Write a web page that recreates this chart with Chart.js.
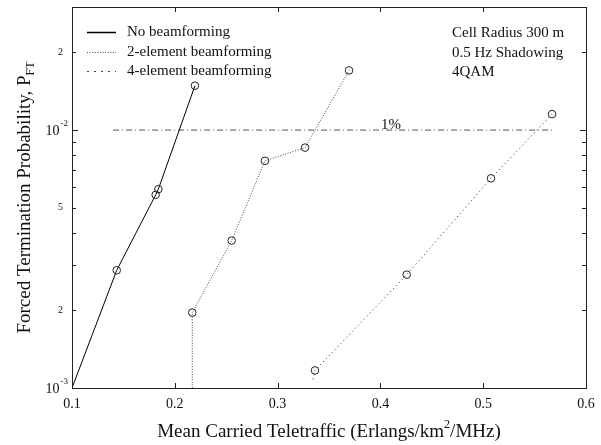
<!DOCTYPE html>
<html>
<head>
<meta charset="utf-8">
<script src="https://cdn.jsdelivr.net/npm/chart.js@4/dist/chart.umd.min.js"></script>
<style>
html,body{margin:0;padding:0;background:#fff;}
canvas{display:block;}
</style>
</head>
<body>
<canvas id="c" width="601" height="445"></canvas>
<script>
// ---- data ----
const xTicks = [0.1, 0.2, 0.3, 0.4, 0.5, 0.6];
const yTickLabels = [
  {v: 0.001, base: '10', exp: '-3'},
  {v: 0.002, base: '2'},
  {v: 0.005, base: '5'},
  {v: 0.01, base: '10', exp: '-2'},
  {v: 0.02, base: '2'}
];
const seriesNames = ['No beamforming', '2-element beamforming', '4-element beamforming'];

const noBfX = [0.1, 0.1435, 0.1814, 0.184, 0.2196];
const noBfY = [0.001, 0.00286, 0.00561, 0.0059, 0.01486];
const noBfMarks = [false, true, true, true, true];

const twoElX = [0.217, 0.217, 0.2553, 0.2877, 0.3267, 0.3695];
const twoElY = [0.001, 0.00196, 0.00373, 0.0076, 0.00855, 0.01703];
const twoElMarks = [false, true, true, true, true, true];

const fourElX = [0.3345, 0.3364, 0.4256, 0.5076, 0.567];
const fourElY = [0.00108, 0.00117, 0.00275, 0.0065, 0.01153];
const fourElMarks = [false, true, true, true, true];

const onePctX = [0.14, 0.57];
const onePctY = [0.01, 0.01];

const notes = ['Cell Radius 300 m', '0.5 Hz Shadowing', '4QAM'];

// ---- build ----
const pts = (xs, ys) => xs.map((x, i) => ({x: x, y: ys[i]}));
const rad = (m) => m.map(b => b ? 3.8 : 0);
const SERIF = '"Liberation Serif", "DejaVu Serif", serif';

const styles = [
  {color: '#000', dash: [], width: 1},
  {color: '#444', dash: [1, 1.6], width: 1},
  {color: '#444', dash: [1.2, 3], width: 1}
];

const datasets = [
  {data: pts(noBfX, noBfY), radius: rad(noBfMarks), s: styles[0]},
  {data: pts(twoElX, twoElY), radius: rad(twoElMarks), s: styles[1]},
  {data: pts(fourElX, fourElY), radius: rad(fourElMarks), s: styles[2]}
].map((d, i) => ({
  label: seriesNames[i],
  data: d.data,
  showLine: true,
  borderColor: d.s.color,
  borderWidth: d.s.width,
  borderDash: d.s.dash,
  pointRadius: d.radius,
  pointBorderColor: '#222',
  pointBackgroundColor: 'rgba(0,0,0,0)',
  pointBorderWidth: 1,
  tension: 0
}));
datasets.push({
  label: '1%',
  data: pts(onePctX, onePctY),
  showLine: true,
  borderColor: '#555',
  borderWidth: 1,
  borderDash: [6, 3, 1, 3],
  pointRadius: 0
});

const decor = {
  id: 'decor',
  afterDraw(chart) {
    const ctx = chart.ctx;
    const a = chart.chartArea;
    const xs = chart.scales.x, ys = chart.scales.y;
    ctx.save();
    ctx.strokeStyle = '#222';
    ctx.lineWidth = 1;
    ctx.strokeRect(Math.round(a.left) + 0.5, Math.round(a.top) + 0.5, Math.round(a.right - a.left), Math.round(a.bottom - a.top));
    ctx.beginPath();
    xTicks.forEach(v => {
      const px = Math.round(xs.getPixelForValue(v)) + 0.5;
      ctx.moveTo(px, a.bottom); ctx.lineTo(px, a.bottom - 5);
      ctx.moveTo(px, a.top); ctx.lineTo(px, a.top + 5);
    });
    for (let e = -3; e <= -2; e++) {
      for (let m = 1; m <= 9; m++) {
        const v = m * Math.pow(10, e);
        if (v < ys.min * 0.999 || v > ys.max * 1.001) continue;
        const py = Math.round(ys.getPixelForValue(v)) + 0.5;
        const len = m === 1 ? 6 : 4;
        ctx.moveTo(a.left, py); ctx.lineTo(a.left + len, py);
        ctx.moveTo(a.right, py); ctx.lineTo(a.right - len, py);
      }
    }
    ctx.stroke();

    ctx.fillStyle = '#111';
    ctx.font = '14px ' + SERIF;
    ctx.textAlign = 'center';
    ctx.textBaseline = 'middle';
    xTicks.forEach(v => {
      ctx.fillText(v.toFixed(1), xs.getPixelForValue(v), a.bottom + 16);
    });
    yTickLabels.forEach(t => {
      const py = ys.getPixelForValue(t.v);
      ctx.textAlign = 'right';
      ctx.textBaseline = 'middle';
      if (t.exp) {
        ctx.font = '9px ' + SERIF;
        const ew = ctx.measureText(t.exp).width;
        ctx.fillText(t.exp, a.left - 4, py - 6);
        ctx.font = '14px ' + SERIF;
        ctx.fillText(t.base, a.left - 5 - ew, py + 1);
      } else {
        ctx.font = '10px ' + SERIF;
        ctx.fillText(t.base, a.left - 9, py);
      }
    });

    ctx.textBaseline = 'alphabetic';
    ctx.textAlign = 'left';
    const xt1 = 'Mean Carried Teletraffic (Erlangs/km', xt2 = '2', xt3 = '/MHz)';
    ctx.font = '19px ' + SERIF;
    const w1 = ctx.measureText(xt1).width, w3 = ctx.measureText(xt3).width;
    ctx.font = '12px ' + SERIF;
    const w2 = ctx.measureText(xt2).width;
    let sx = (a.left + a.right) / 2 - (w1 + w2 + w3) / 2;
    const by = 437;
    ctx.font = '19px ' + SERIF; ctx.fillText(xt1, sx, by);
    ctx.font = '12px ' + SERIF; ctx.fillText(xt2, sx + w1, by - 9);
    ctx.font = '19px ' + SERIF; ctx.fillText(xt3, sx + w1 + w2, by);

    ctx.save();
    ctx.translate(30, (a.top + a.bottom) / 2);
    ctx.rotate(-Math.PI / 2);
    const yt1 = 'Forced Termination Probability, P', yt2 = 'FT';
    ctx.font = '19px ' + SERIF;
    const yw1 = ctx.measureText(yt1).width;
    ctx.font = '12px ' + SERIF;
    const yw2 = ctx.measureText(yt2).width;
    const ys0 = -(yw1 + yw2) / 2;
    ctx.font = '19px ' + SERIF; ctx.fillText(yt1, ys0, 0);
    ctx.font = '12px ' + SERIF; ctx.fillText(yt2, ys0 + yw1, 4);
    ctx.restore();

    ctx.font = '15px ' + SERIF;
    ctx.textBaseline = 'middle';
    ctx.textAlign = 'left';
    const ly = [32, 52, 71];
    seriesNames.forEach((n, i) => {
      const s = styles[i];
      ctx.beginPath();
      ctx.strokeStyle = s.color;
      ctx.lineWidth = i === 0 ? 1.5 : 1;
      ctx.setLineDash(i === 2 ? [2, 5] : s.dash);
      ctx.moveTo(87, ly[i] + 0.5); ctx.lineTo(116, ly[i] + 0.5);
      ctx.stroke();
      ctx.setLineDash([]);
      ctx.fillStyle = '#111';
      ctx.fillText(n, 127, ly[i]);
    });
    notes.forEach((n, i) => ctx.fillText(n, 452, ly[i] + 1));
    ctx.font = '15px ' + SERIF;
    ctx.textAlign = 'center';
    ctx.fillText('1%', 391, ys.getPixelForValue(0.01) - 5);
    ctx.restore();
  }
};

new Chart(document.getElementById('c'), {
  type: 'scatter',
  data: {datasets: datasets},
  options: {
    responsive: false,
    animation: false,
    devicePixelRatio: 1,
    layout: {padding: {top: 7, right: 15, left: 0, bottom: 0}},
    plugins: {legend: {display: false}, tooltip: {enabled: false}},
    scales: {
      x: {
        type: 'linear', min: 0.1, max: 0.6,
        grid: {display: false}, border: {display: false},
        ticks: {display: false},
        afterFit: s => { s.height = 57; }
      },
      y: {
        type: 'logarithmic', min: 0.001, max: 0.03,
        grid: {display: false}, border: {display: false},
        ticks: {display: false},
        afterFit: s => { s.width = 72; }
      }
    }
  },
  plugins: [decor]
});
</script>
</body>
</html>
